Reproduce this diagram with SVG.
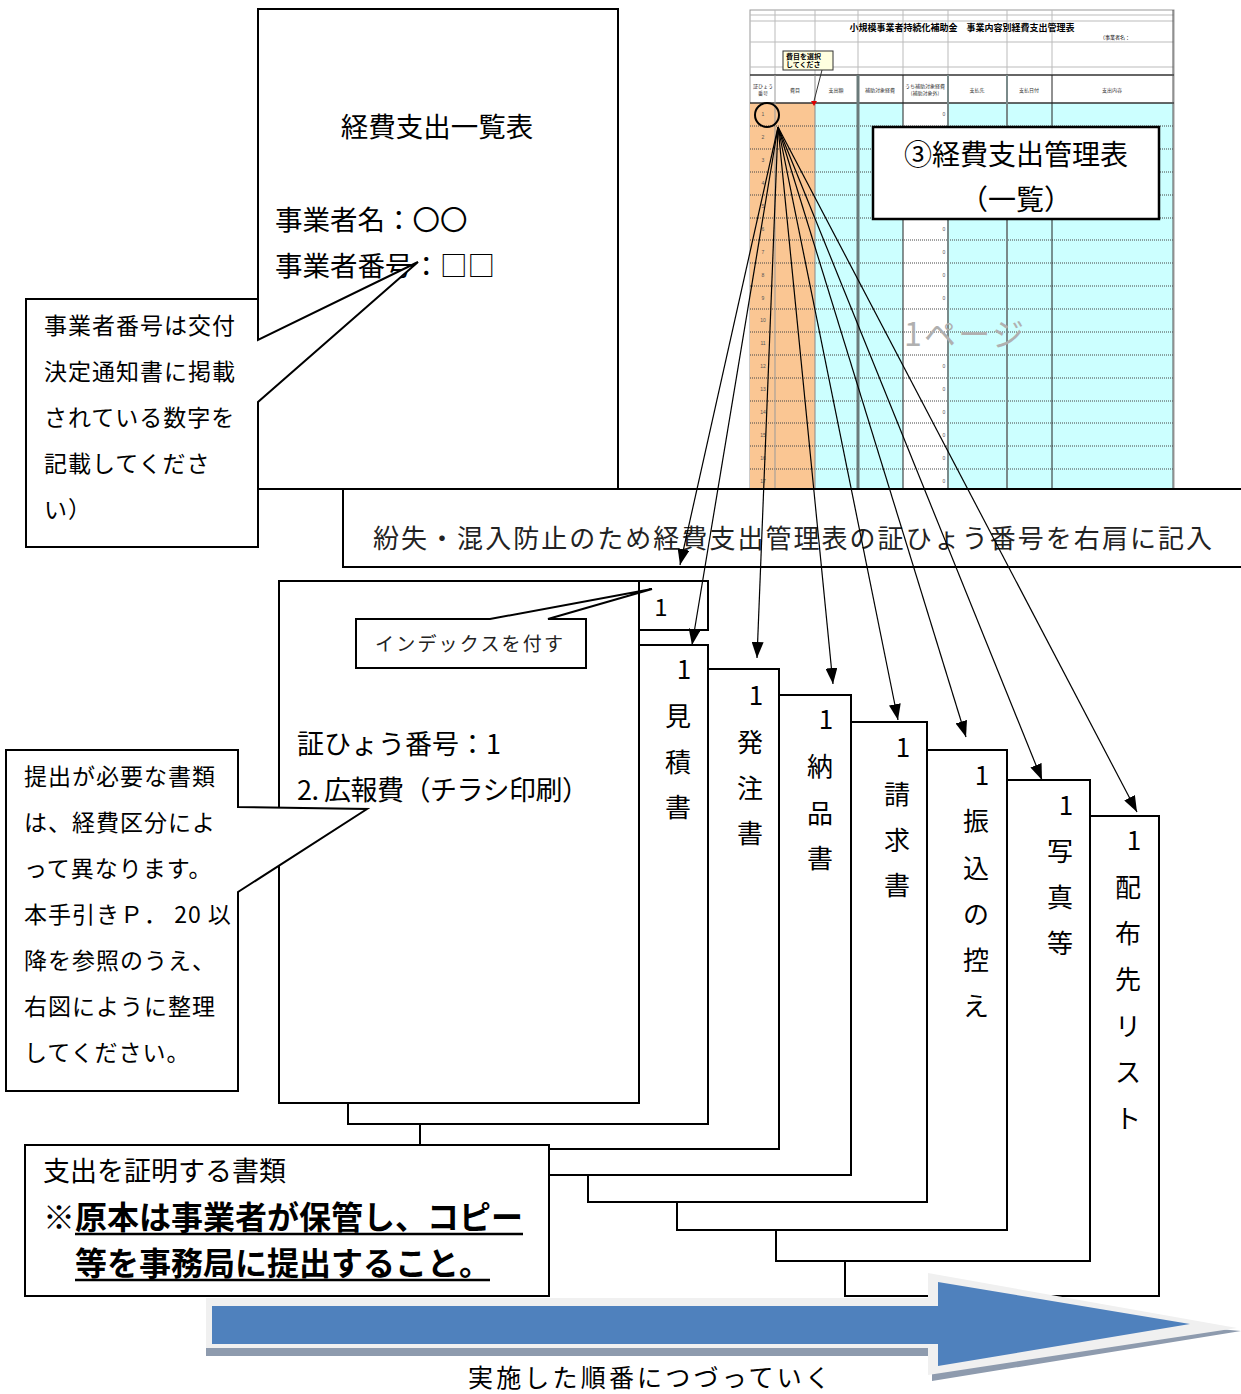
<svg xmlns="http://www.w3.org/2000/svg" width="1241" height="1394" viewBox="0 0 1241 1394">
<style>
.box{fill:#fff;stroke:#000;stroke-width:2}
.t{font-family:"Noto Sans CJK JP","Noto Sans",sans-serif;fill:#000}
.m{font-family:"Liberation Serif","Noto Sans CJK JP",serif;fill:#222}
.c{text-anchor:middle}
.conn{fill:none;stroke:#000;stroke-width:1.2}
.dot{stroke:#444;stroke-width:1;stroke-dasharray:1 1}
.gl{stroke:#bbb;stroke-width:1}
.st{font-family:"Noto Sans CJK JP",sans-serif;fill:#333;font-size:5px;text-anchor:middle}
.rn{font-family:"Liberation Sans",sans-serif;fill:#555;font-size:5px;text-anchor:middle}
.cl{font-size:23px;letter-spacing:1px}
</style>
<defs>
<marker id="ah" viewBox="0 0 16 12" refX="16" refY="6" markerWidth="16" markerHeight="12" markerUnits="userSpaceOnUse" orient="auto"><path d="M0,0 L16,6 L0,12 z" fill="#000"/></marker>
</defs>
<rect width="1241" height="1394" fill="#fff"/>

<!-- spreadsheet -->
<g id="spreadsheet">
<rect x="750" y="10" width="424" height="479" fill="#fff" stroke="#999" stroke-width="1"/>
<rect x="750" y="103" width="65" height="386" fill="#FAC693"/>
<rect x="815" y="103" width="88" height="386" fill="#CCFFFF"/>
<rect x="948" y="103" width="225" height="386" fill="#CCFFFF"/>
<line class="gl" x1="750" y1="15" x2="1174" y2="15"/>
<line class="gl" x1="750" y1="21" x2="1174" y2="21"/>
<line class="gl" x1="750" y1="42" x2="1174" y2="42"/>
<line class="gl" x1="750" y1="67" x2="1174" y2="67"/>
<g class="gl">
<line x1="775" y1="10" x2="775" y2="75"/><line x1="815" y1="10" x2="815" y2="75"/><line x1="858" y1="10" x2="858" y2="75"/><line x1="903" y1="10" x2="903" y2="75"/><line x1="948" y1="10" x2="948" y2="75"/><line x1="1007" y1="10" x2="1007" y2="75"/><line x1="1052" y1="10" x2="1052" y2="75"/>
</g>
<line x1="750" y1="75" x2="1174" y2="75" stroke="#333" stroke-width="1.5"/>
<line x1="750" y1="103" x2="1174" y2="103" stroke="#333" stroke-width="1.5"/>
<g class="dot">
<line x1="750" y1="126" x2="1173" y2="126"/><line x1="750" y1="149" x2="1173" y2="149"/><line x1="750" y1="172" x2="1173" y2="172"/><line x1="750" y1="195" x2="1173" y2="195"/><line x1="750" y1="218" x2="1173" y2="218"/><line x1="750" y1="240" x2="1173" y2="240"/><line x1="750" y1="263" x2="1173" y2="263"/><line x1="750" y1="286" x2="1173" y2="286"/><line x1="750" y1="309" x2="1173" y2="309"/><line x1="750" y1="332" x2="1173" y2="332"/><line x1="750" y1="355" x2="1173" y2="355"/><line x1="750" y1="378" x2="1173" y2="378"/><line x1="750" y1="401" x2="1173" y2="401"/><line x1="750" y1="423" x2="1173" y2="423"/><line x1="750" y1="446" x2="1173" y2="446"/><line x1="750" y1="469" x2="1173" y2="469"/>
</g>
<line x1="775" y1="75" x2="775" y2="489" stroke="#999" stroke-width="1"/>
<line x1="815" y1="75" x2="815" y2="489" stroke="#888" stroke-width="1"/>
<line x1="858" y1="75" x2="858" y2="489" stroke="#6a7a7a" stroke-width="3"/>
<line x1="903" y1="75" x2="903" y2="489" stroke="#222" stroke-width="1"/>
<line x1="948" y1="75" x2="948" y2="489" stroke="#7a8a8a" stroke-width="2"/>
<line x1="1007" y1="75" x2="1007" y2="489" stroke="#7a8a8a" stroke-width="2"/>
<line x1="1052" y1="75" x2="1052" y2="489" stroke="#222" stroke-width="1"/>
<line x1="1173" y1="10" x2="1173" y2="489" stroke="#555" stroke-width="1"/>
<text class="t c" x="962" y="31" font-size="9" font-weight="bold">小規模事業者持続化補助金　事業内容別経費支出管理表</text>
<text class="t" x="1100" y="39" font-size="5">（事業者名：</text>
<text class="st" x="763" y="88">証ひょう</text><text class="st" x="763" y="95">番号</text>
<text class="st" x="795" y="92">費目</text>
<text class="st" x="836" y="92">支出額</text>
<text class="st" x="880" y="92">補助対象経費</text>
<text class="st" x="925" y="88">うち補助対象経費</text><text class="st" x="925" y="95">(補助対象外)</text>
<text class="st" x="977" y="92">支払先</text>
<text class="st" x="1029" y="92">支払日付</text>
<text class="st" x="1112" y="92">支出内容</text>
<g class="rn">
<text x="763" y="116">1</text><text x="763" y="139">2</text><text x="763" y="162">3</text><text x="763" y="185">4</text><text x="763" y="208">5</text><text x="763" y="231">6</text><text x="763" y="254">7</text><text x="763" y="277">8</text><text x="763" y="300">9</text><text x="763" y="322">10</text><text x="763" y="345">11</text><text x="763" y="368">12</text><text x="763" y="391">13</text><text x="763" y="414">14</text><text x="763" y="437">15</text><text x="763" y="460">16</text><text x="763" y="483">17</text>
<text x="944" y="116">0</text><text x="944" y="231">0</text><text x="944" y="254">0</text><text x="944" y="277">0</text><text x="944" y="300">0</text><text x="944" y="368">0</text><text x="944" y="391">0</text><text x="944" y="414">0</text><text x="944" y="437">0</text><text x="944" y="460">0</text><text x="944" y="483">0</text>
</g>
<rect x="783" y="51" width="50" height="19" fill="#FFFFE0" stroke="#333" stroke-width="1"/>
<text class="t" x="786" y="59" font-size="7" font-weight="bold">費目を選択</text>
<text class="t" x="786" y="67" font-size="7" font-weight="bold">してくださ</text>
<line x1="822" y1="70" x2="814" y2="101" stroke="#333" stroke-width="1"/>
<path d="M811,101 L817,101 L814,106 z" fill="#d00"/>
<text class="t" x="904" y="346" font-size="32" style="fill:#b0b0b0" textLength="120" lengthAdjust="spacing">1ページ</text>
<circle cx="767" cy="115" r="12" fill="none" stroke="#000" stroke-width="2"/>
</g>

<g id="node-kanrihyo">
<rect x="873" y="127" width="286" height="92" fill="#fff" stroke="#000" stroke-width="2.5"/>
<text class="t c" x="1016" y="165" font-size="28">③経費支出管理表</text>
<text class="t c" x="1016" y="210" font-size="28">（一覧）</text>
</g>

<g id="node-ichiranhyo">
<rect class="box" x="258" y="9" width="360" height="480"/>
<text class="t c" x="437" y="137" font-size="27.5">経費支出一覧表</text>
<text class="t" x="275" y="230" font-size="27.5">事業者名：〇〇</text>
<text class="t" x="275" y="276" font-size="27.5">事業者番号：□□</text>
</g>

<g id="node-callout1">
<path class="box" d="M26,299 L258,299 L258,340 L418,262 L258,402 L258,547 L26,547 Z"/>
<text class="t cl" x="44" y="334">事業者番号は交付</text>
<text class="t cl" x="44" y="380">決定通知書に掲載</text>
<text class="t cl" x="44" y="426">されている数字を</text>
<text class="t cl" x="44" y="472">記載してくださ</text>
<text class="t cl" x="44" y="518">い）</text>
</g>

<g id="node-funshitsu">
<rect class="box" x="343" y="489" width="910" height="78"/>
<text class="m" x="373" y="548" font-size="26" textLength="839" lengthAdjust="spacing">紛失・混入防止のため経費支出管理表の証ひょう番号を右肩に記入</text>
</g>

<g id="node-haifu">
<rect class="box" x="845" y="816" width="314" height="480"/>
<text class="t c" font-size="26"><tspan x="1134" y="850">1</tspan><tspan x="1128" y="897">配</tspan><tspan x="1128" y="943">布</tspan><tspan x="1128" y="989">先</tspan><tspan x="1128" y="1036">リ</tspan><tspan x="1128" y="1082">ス</tspan><tspan x="1128" y="1128">ト</tspan></text>
</g>
<g id="node-shashin">
<rect class="box" x="776" y="780" width="314" height="481"/>
<text class="t c" font-size="26"><tspan x="1066" y="815">1</tspan><tspan x="1060" y="861">写</tspan><tspan x="1060" y="907">真</tspan><tspan x="1060" y="953">等</tspan></text>
</g>
<g id="node-furikomi">
<rect class="box" x="677" y="750" width="330" height="480"/>
<text class="t c" font-size="26"><tspan x="982" y="785">1</tspan><tspan x="976" y="831">振</tspan><tspan x="976" y="878">込</tspan><tspan x="976" y="924">の</tspan><tspan x="976" y="970">控</tspan><tspan x="976" y="1016">え</tspan></text>
</g>
<g id="node-seikyu">
<rect class="box" x="588" y="722" width="339" height="480"/>
<text class="t c" font-size="26"><tspan x="903" y="757">1</tspan><tspan x="897" y="804">請</tspan><tspan x="897" y="850">求</tspan><tspan x="897" y="895">書</tspan></text>
</g>
<g id="node-nohin">
<rect class="box" x="526" y="695" width="325" height="480"/>
<text class="t c" font-size="26"><tspan x="826" y="729">1</tspan><tspan x="820" y="776">納</tspan><tspan x="820" y="823">品</tspan><tspan x="820" y="868">書</tspan></text>
</g>
<g id="node-hacchu">
<rect class="box" x="420" y="669" width="359" height="480"/>
<text class="t c" font-size="26"><tspan x="756" y="705">1</tspan><tspan x="750" y="752">発</tspan><tspan x="750" y="798">注</tspan><tspan x="750" y="843">書</tspan></text>
</g>
<g id="node-mitsumori">
<rect class="box" x="348" y="645" width="360" height="479"/>
<text class="t c" font-size="26"><tspan x="684" y="679">1</tspan><tspan x="678" y="726">見</tspan><tspan x="678" y="772">積</tspan><tspan x="678" y="817">書</tspan></text>
</g>
<g id="node-main-doc">
<rect class="box" x="279" y="581" width="360" height="522"/>
<rect class="box" x="639" y="581" width="69" height="49"/>
<text class="t c" x="661" y="616" font-size="24">1</text>
<text class="t" x="297" y="754" font-size="27">証ひょう番号：1</text>
<text class="t" x="297" y="800" font-size="27" textLength="292" lengthAdjust="spacing">2. 広報費（チラシ印刷）</text>
</g>

<g id="node-index">
<path class="box" d="M356,619 L490,619 L652,589 L548,619 L586,619 L586,668 L356,668 Z"/>
<text class="m" x="375" y="651" font-size="19" textLength="188" lengthAdjust="spacing">インデックスを付す</text>
</g>

<g id="node-callout2">
<path class="box" d="M6,750 L238,750 L238,807 L367,809 L238,892 L238,1091 L6,1091 Z"/>
<text class="t cl" x="24" y="785">提出が必要な書類</text>
<text class="t cl" x="24" y="831">は、経費区分によ</text>
<text class="t cl" x="24" y="877">って異なります。</text>
<text class="t cl" x="24" y="923">本手引きＰ． 20 以</text>
<text class="t cl" x="24" y="969">降を参照のうえ、</text>
<text class="t cl" x="24" y="1015">右図にように整理</text>
<text class="t cl" x="24" y="1061">してください。</text>
</g>

<g id="node-shomei">
<rect class="box" x="25" y="1145" width="524" height="151"/>
<text class="t" x="43" y="1181" font-size="27">支出を証明する書類</text>
<text class="t" x="43" y="1229" font-size="32" font-weight="bold">※原本は事業者が保管し、コピー</text>
<line x1="75" y1="1234" x2="523" y2="1234" stroke="#000" stroke-width="2.5"/>
<text class="t" x="75" y="1275" font-size="32" font-weight="bold">等を事務局に提出すること。</text>
<line x1="75" y1="1280" x2="490" y2="1280" stroke="#000" stroke-width="2.5"/>
</g>

<g id="node-order-arrow">
<path d="M209,1354 L932,1354 L932,1381 L1241,1331 L932,1303 L932,1354 Z" fill="#8E9BAE"/>
<path d="M206,1298 L928,1298 L928,1273 L1237,1328 L928,1375 L928,1348 L206,1348 Z" fill="#F0F0F0"/>
<path d="M206,1348 L928,1348 L928,1356 L206,1356 Z" fill="#8E9BAE"/>
<path d="M212,1306 L938,1306 L938,1282 L1190,1324 L938,1366 L938,1344 L212,1344 Z" fill="#4F81BD"/>
<text class="t c" x="649" y="1387" font-size="25" textLength="362" lengthAdjust="spacing">実施した順番につづっていく</text>
</g>

<g id="connectors">
<line class="conn" x1="778" y1="127" x2="680" y2="565" marker-end="url(#ah)"/>
<line class="conn" x1="778" y1="127" x2="692" y2="645" marker-end="url(#ah)"/>
<line class="conn" x1="778" y1="127" x2="757" y2="658" marker-end="url(#ah)"/>
<line class="conn" x1="778" y1="127" x2="833" y2="684" marker-end="url(#ah)"/>
<line class="conn" x1="778" y1="127" x2="898" y2="720" marker-end="url(#ah)"/>
<line class="conn" x1="778" y1="127" x2="966" y2="737" marker-end="url(#ah)"/>
<line class="conn" x1="778" y1="127" x2="1042" y2="780" marker-end="url(#ah)"/>
<line class="conn" x1="778" y1="127" x2="1137" y2="812" marker-end="url(#ah)"/>
</g>
</svg>
